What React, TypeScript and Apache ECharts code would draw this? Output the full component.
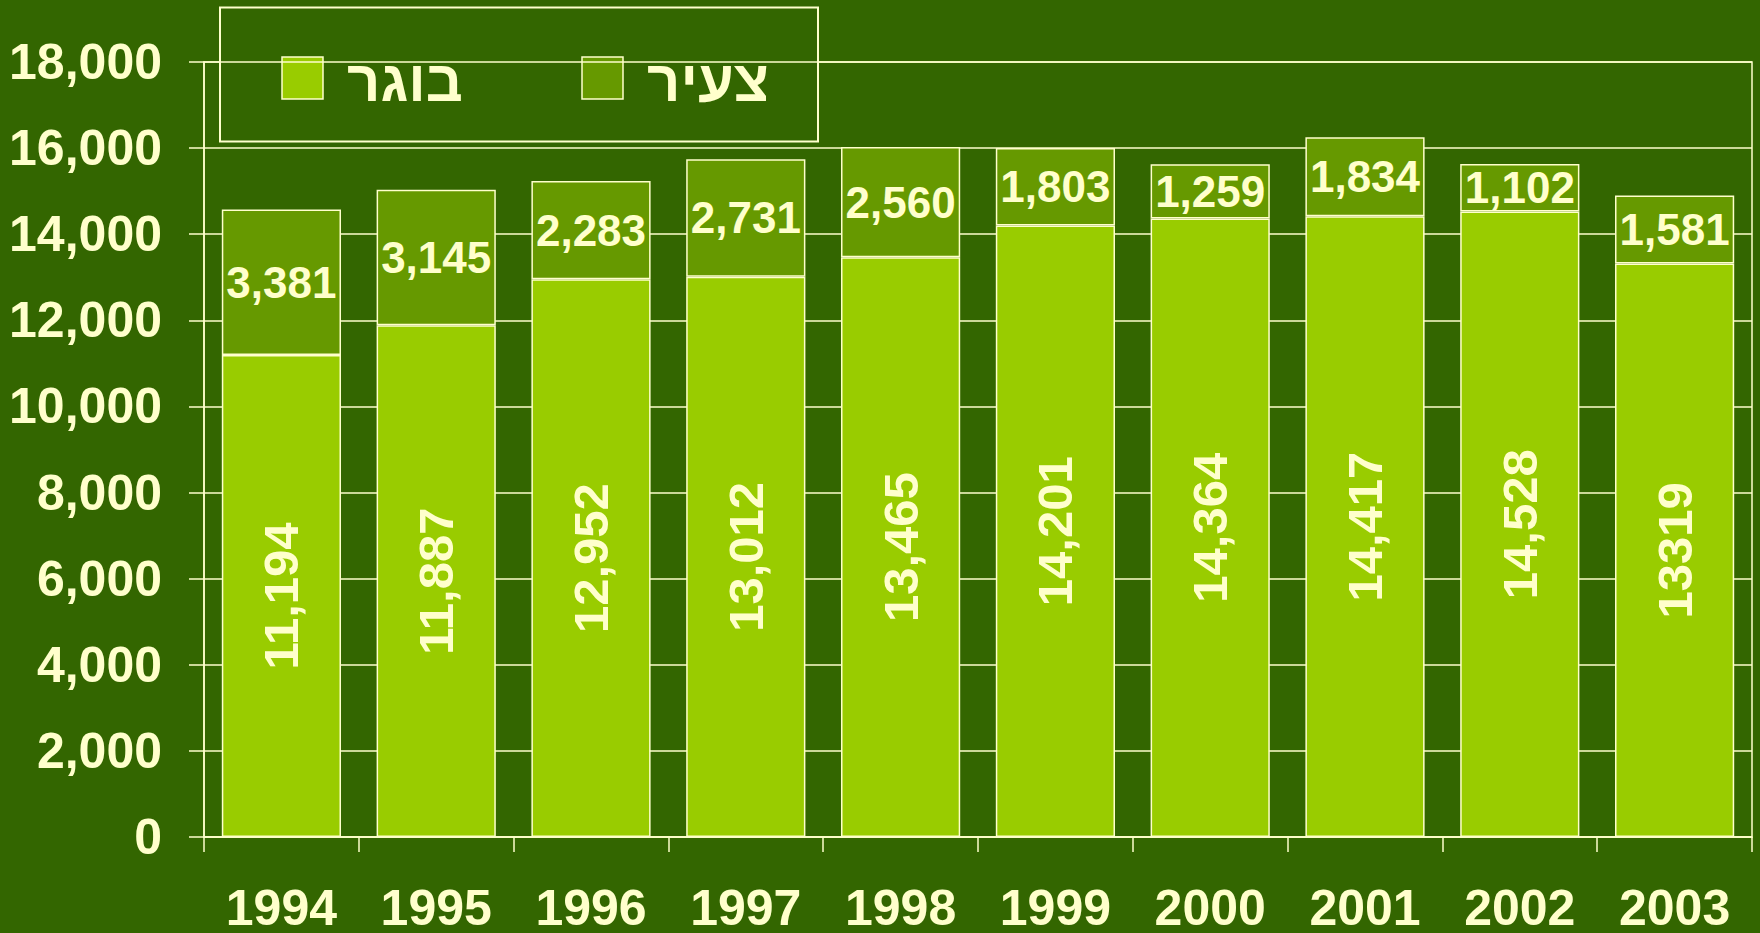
import React, { useEffect, useRef } from "react";
import * as echarts from "echarts";

const years = ["1994", "1995", "1996", "1997", "1998", "1999", "2000", "2001", "2002", "2003"];
const adultValues = [11194, 11887, 12952, 13012, 13465, 14201, 14364, 14417, 14528, 13319];
const adultLabels = ["11,194", "11,887", "12,952", "13,012", "13,465", "14,201", "14,364", "14,417", "14,528", "13319"];
const youngValues = [3381, 3145, 2283, 2731, 2560, 1803, 1259, 1834, 1102, 1581];
const youngLabels = ["3,381", "3,145", "2,283", "2,731", "2,560", "1,803", "1,259", "1,834", "1,102", "1,581"];
const yTickLabels = ["0", "2,000", "4,000", "6,000", "8,000", "10,000", "12,000", "14,000", "16,000", "18,000"];
const seriesNames = ["בוגר", "צעיר"];

const BG = "#336600";
const CREAM = "#FFFFCC";
const LIGHT = "#99CC00";
const DARK = "#669900";
const FONT = '"Liberation Sans", Arial, sans-serif';
const seriesColors = [LIGHT, DARK];

export default function App() {
  const ref = useRef<HTMLDivElement>(null);
  useEffect(() => {
    if (!ref.current) return;
    const chart = echarts.init(ref.current, null, { renderer: "svg" });
    const legendItemX = [282, 582];
    const legendElements: any[] = [
      {
        type: "rect",
        shape: { x: 220, y: 7.5, width: 598, height: 134 },
        style: { fill: BG, stroke: CREAM, lineWidth: 2 },
      },
    ];
    seriesNames.forEach((name, i) => {
      legendElements.push({
        type: "rect",
        shape: { x: legendItemX[i], y: 57, width: 41, height: 42 },
        style: { fill: seriesColors[i], stroke: CREAM, lineWidth: 1.5 },
      });
      legendElements.push({
        type: "text",
        x: legendItemX[i] + 65,
        y: 80,
        style: {
          text: name,
          fill: CREAM,
          font: `bold 58px ${FONT}`,
          textAlign: "left",
          textVerticalAlign: "middle",
        },
      });
    });
    chart.setOption({
      animation: false,
      backgroundColor: BG,
      textStyle: { fontFamily: FONT },
      grid: {
        left: 204,
        right: 8,
        top: 62,
        bottom: 96,
        show: true,
        borderColor: CREAM,
        borderWidth: 1.5,
        backgroundColor: "transparent",
      },
      graphic: [
        {
          type: "group",
          z: 100,
          children: legendElements,
        },
      ],
      xAxis: {
        type: "category",
        data: years,
        boundaryGap: true,
        axisLine: { show: true, lineStyle: { color: CREAM, width: 1.5 } },
        axisTick: { show: true, length: 15, lineStyle: { color: CREAM, width: 1.5 } },
        axisLabel: {
          color: CREAM,
          fontSize: 50,
          lineHeight: 46,
          fontWeight: "bold",
          fontFamily: FONT,
          margin: 48,
          interval: 0,
        },
        splitLine: { show: false },
      },
      yAxis: {
        type: "value",
        min: 0,
        max: 18000,
        interval: 2000,
        axisLine: { show: true, lineStyle: { color: CREAM, width: 1.5 } },
        axisTick: { show: true, length: 15, lineStyle: { color: CREAM, width: 1.5 } },
        axisLabel: {
          color: CREAM,
          fontSize: 50,
          fontWeight: "bold",
          fontFamily: FONT,
          margin: 42,
          formatter: (v: number) => yTickLabels[Math.round(v / 2000)] ?? String(v),
        },
        splitLine: { show: true, lineStyle: { color: CREAM, width: 1.5 } },
      },
      series: [
        {
          name: seriesNames[0],
          type: "bar",
          stack: "total",
          barWidth: "77%",
          data: adultValues,
          itemStyle: { color: LIGHT, borderColor: CREAM, borderWidth: 1.5 },
          label: {
            show: true,
            position: "inside",
            rotate: 90,
            color: CREAM,
            fontSize: 49,
            fontWeight: "bold",
            fontFamily: FONT,
            formatter: (p: any) => adultLabels[p.dataIndex],
          },
        },
        {
          name: seriesNames[1],
          type: "bar",
          stack: "total",
          barWidth: "77%",
          data: youngValues,
          itemStyle: { color: DARK, borderColor: CREAM, borderWidth: 1.5 },
          label: {
            show: true,
            position: "inside",
            color: CREAM,
            fontSize: 44,
            fontWeight: "bold",
            fontFamily: FONT,
            formatter: (p: any) => youngLabels[p.dataIndex],
          },
        },
      ],
    });
    return () => chart.dispose();
  }, []);
  return (
    <div
      ref={ref}
      style={{ position: "fixed", left: 0, top: 0, width: 1760, height: 933, background: BG }}
    />
  );
}
